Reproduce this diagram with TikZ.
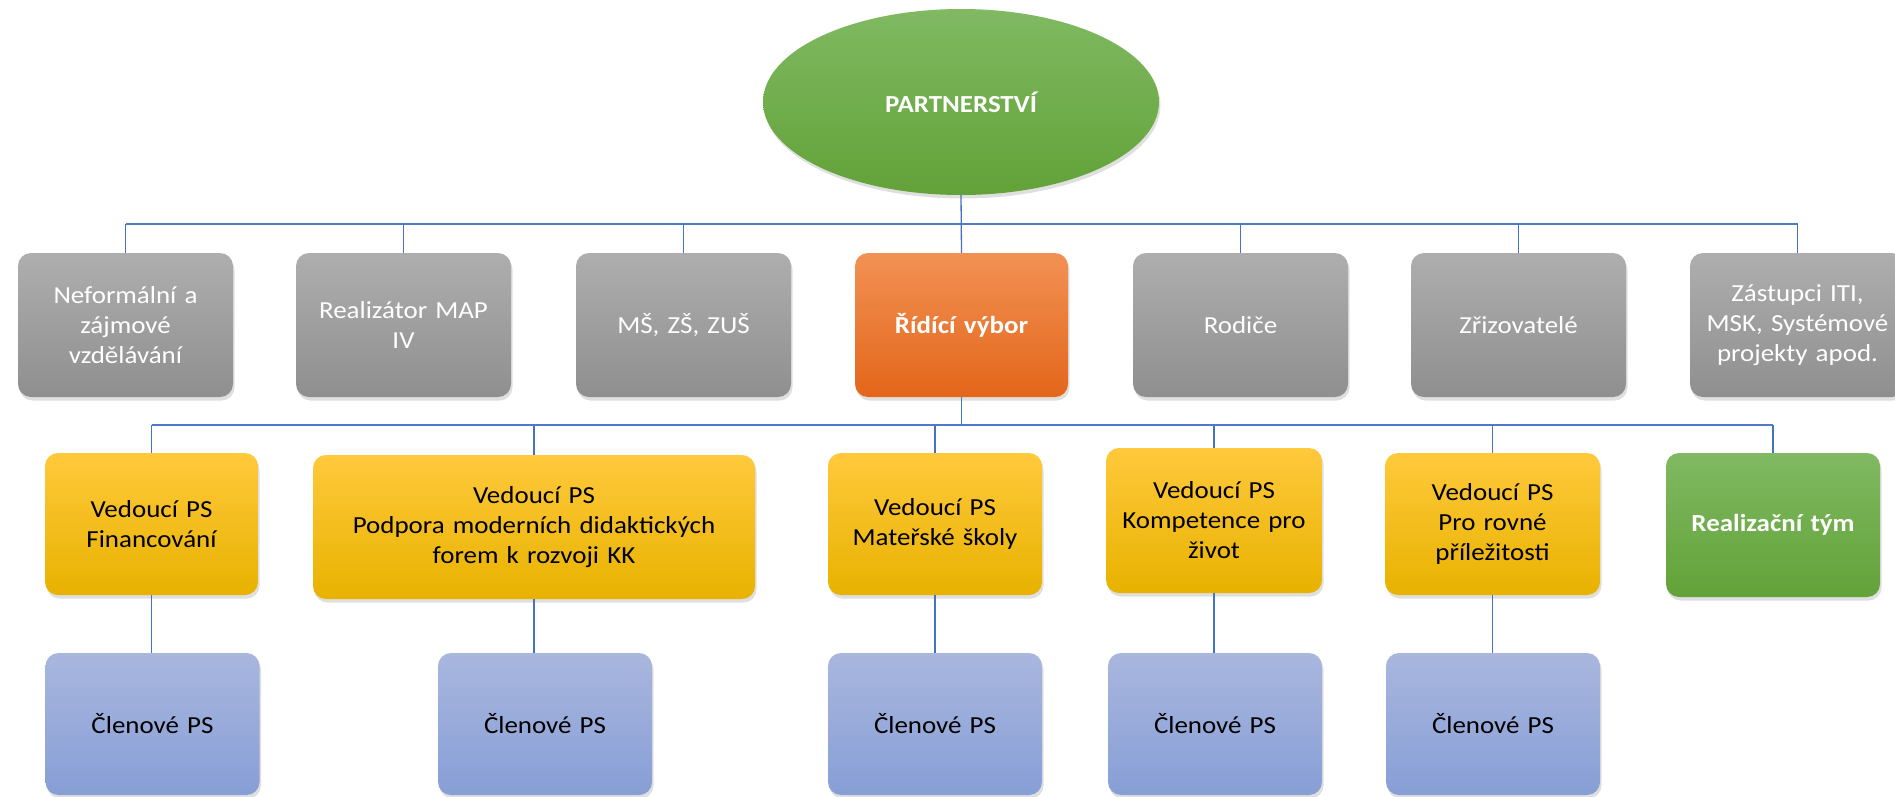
\documentclass[tikz,border=0pt]{standalone}
\usepackage{fontspec}
\setmainfont{Carlito}[FakeStretch=1.1]
\usetikzlibrary{shadows,shapes.geometric}
\definecolor{grayT}{HTML}{AEAEAE}
\definecolor{grayB}{HTML}{8F8F8F}
\definecolor{orT}{HTML}{F29154}
\definecolor{orB}{HTML}{E3661A}
\definecolor{yeT}{HTML}{FFC93C}
\definecolor{yeB}{HTML}{E8B200}
\definecolor{grT}{HTML}{80B962}
\definecolor{grB}{HTML}{62A238}
\definecolor{blT}{HTML}{A9B7DE}
\definecolor{blB}{HTML}{879ED6}
\definecolor{conn}{HTML}{4472C4}
\definecolor{busc}{HTML}{4F7AC8}
\tikzset{
  txt/.style={font=\fontsize{24.5}{30}\selectfont},
  btxt/.style={font=\fontsize{24.5}{30}\selectfont\bfseries},
  box/.style={rectangle, rounded corners=13pt, align=center, inner sep=4pt, txt,
    drop shadow={opacity=0.25, shadow xshift=1.5pt, shadow yshift=-3.5pt}},
  graybox/.style={box, top color=grayT, bottom color=grayB, text=white,
    minimum width=215pt, minimum height=144pt, text width=205pt},
  orangebox/.style={box, top color=orT, bottom color=orB, text=white,
    minimum width=213pt, minimum height=144pt, text width=205pt, btxt},
  yellowbox/.style={box, top color=yeT, bottom color=yeB, text=black,
    minimum height=142pt},
  greenbox/.style={box, top color=grT, bottom color=grB, text=white,
    minimum width=214pt, minimum height=144pt, text width=205pt, btxt},
  bluebox/.style={box, top color=blT, bottom color=blB, text=black,
    minimum width=214pt, minimum height=142pt, text width=205pt},
  conline/.style={draw=conn, line width=1.3pt},
  busline/.style={draw=busc, line width=2.4pt},
}
\begin{document}
\begin{tikzpicture}[x=1pt,y=-1pt]
\useasboundingbox (0,0) rectangle (1895,796);
% root
\node[ellipse, top color=grT, bottom color=grB, text=white,
  minimum width=396pt, minimum height=186pt, inner sep=0pt, btxt,
  drop shadow={opacity=0.25, shadow xshift=1.5pt, shadow yshift=-3.5pt}]
  (P) at (961,102) {PARTNERSTVÍ};
% top row
\node[graybox] (t1) at (125.5,325) {Neformální a\\zájmové\\vzdělávání};
\node[graybox] (t2) at (403.5,325) {Realizátor MAP\\IV};
\node[graybox] (t3) at (683.5,325) {MŠ, ZŠ, ZUŠ};
\node[orangebox] (R) at (961.5,325) {Řídící výbor};
\node[graybox] (t5) at (1240.5,325) {Rodiče};
\node[graybox] (t6) at (1518.5,325) {Zřizovatelé};
\node[graybox] (t7) at (1797.5,325) {Zástupci ITI,\\MSK, Systémové\\projekty apod.};
% second row
\node[yellowbox, minimum width=213pt, text width=205pt] (y1) at (151.5,524) {Vedoucí PS\\Financování};
\node[yellowbox, minimum width=442pt, minimum height=144pt, text width=430pt] (y2) at (534,527) {Vedoucí PS\\Podpora moderních didaktických\\forem k rozvoji KK};
\node[yellowbox, minimum width=214pt, text width=205pt] (y3) at (935,524) {Vedoucí PS\\Mateřské školy};
\node[yellowbox, minimum width=216pt, minimum height=145pt, text width=205pt] (y4) at (1214,520.5) {Vedoucí PS\\Kompetence pro\\život};
\node[yellowbox, minimum width=215pt, text width=205pt] (y5) at (1492.5,524) {Vedoucí PS\\Pro rovné\\příležitosti};
\node[greenbox] (g) at (1773,525) {Realizační tým};
% third row
\node[bluebox] (b1) at (152.5,724) {Členové PS};
\node[bluebox] (b2) at (545,724) {Členové PS};
\node[bluebox] (b3) at (935,724) {Členové PS};
\node[bluebox] (b4) at (1215,724) {Členové PS};
\node[bluebox] (b5) at (1493,724) {Členové PS};
% connectors level 1
\coordinate (bus1) at (0,224);
\coordinate (bus2) at (0,425);
\draw[busline] (t1.north |- bus1) -- (t7.north |- bus1);
\draw[conline] (P.south) -- (R.north);
\foreach \n in {t1,t2,t3,t5,t6,t7}
  \draw[conline] (\n.north |- bus1) -- (\n.north);
% connectors level 2
\draw[busline] (y1.north |- bus2) -- (g.north |- bus2);
\draw[conline] (R.south) -- (R.south |- bus2);
\foreach \n in {y1,y2,y3,y4,y5,g}
  \draw[conline] (\n.north |- bus2) -- (\n.north);
% connectors level 3
\foreach \a/\b in {y1/b1,y2/b2,y3/b3,y4/b4,y5/b5}
  \draw[conline] (\a.south) -- (\a.south |- \b.north);
\end{tikzpicture}
\end{document}
